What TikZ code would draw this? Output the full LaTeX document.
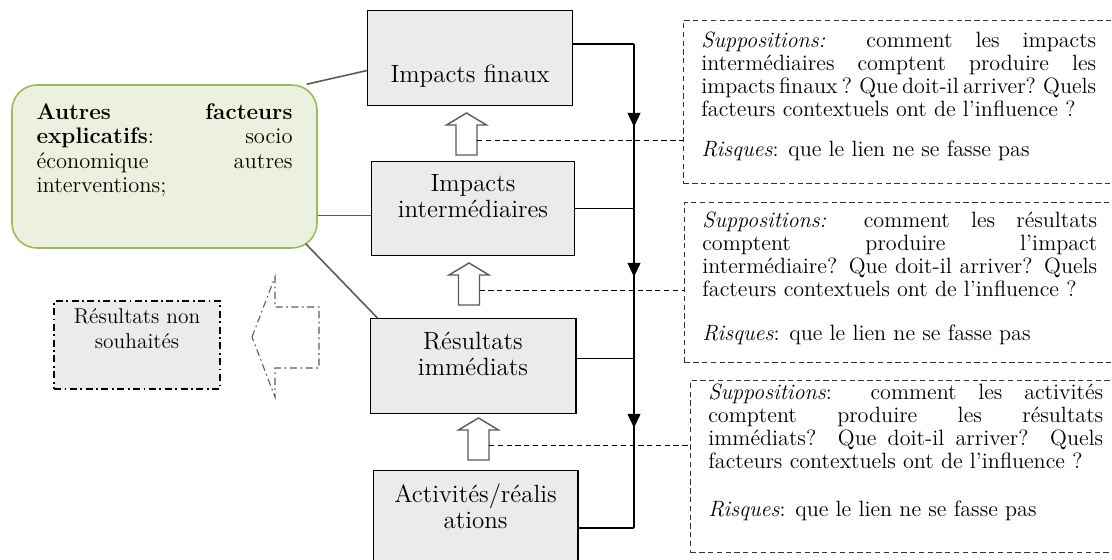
\documentclass[tikz,border=0pt]{standalone}
\usepackage{fontspec}
\usetikzlibrary{positioning,arrows.meta,decorations.markings}
\definecolor{grisboite}{RGB}{235,235,235}
\definecolor{vertfond}{RGB}{235,241,222}
\definecolor{vertbord}{RGB}{155,187,89}
\definecolor{grislien}{RGB}{90,90,90}
\tikzset{
  boite/.style = {draw = black, fill = grisboite, line width = 0.6pt, inner sep = 0pt, minimum width = 4.1cm, minimum height = 1.9cm},
  titre/.style = {font = \fontsize{14.2}{14.8}\selectfont, align = center, inner sep = 0pt, anchor = north},
  hypothese/.style = {draw = black!80, densely dashed, line width = 0.5pt, inner sep = 0pt, anchor = north west, minimum width = 8.8cm},
  texte/.style = {font = {\fontsize{12.6}{13.1}\selectfont\tolerance10000\relax}, text width = 7.9cm, align = justify, inner sep = 0pt, anchor = north west},
  lien/.style = {draw = grislien, line width = 0.9pt},
  tiret/.style = {draw = black, densely dashed, line width = 0.5pt},
  creuse/.style = {draw = grislien, fill = white, line width = 0.8pt},
  pointille/.style = {dash pattern = on 4pt off 2pt on 1pt off 2pt, line width = 0.6pt}
}
\begin{document}
\begin{tikzpicture}[x = 0.02cm, y = -0.02cm]
\useasboundingbox (0,0) rectangle (1112,560);
\clip (0,0) rectangle (1112,560);
\node[boite, anchor = north west] (fin) at (367,10) {};
\node[boite, below = 1.1cm of fin, xshift = 0.06cm, minimum width = 4.06cm, minimum height = 1.88cm] (int) {};
\node[boite, below = 1.24cm of int, minimum width = 4.12cm] (res) {};
\node[boite, below = 1.12cm of res, xshift = 0.05cm, minimum height = 2.2cm] (act) {};
\node[titre] (fin-t) at ([yshift = -1.1cm]fin.north) {Impacts finaux};
\node[titre] (int-t) at ([yshift = -0.26cm]int.north) {Impacts\\intermédiaires};
\node[titre] (res-t) at ([yshift = -0.28cm]res.north) {Résultats\\immédiats};
\node[titre] (act-t) at ([yshift = -0.26cm]act.north) {Activités/réalis\\ations};
\node[draw = vertbord, fill = vertfond, line width = 0.9pt, rounded corners = 0.5cm, minimum width = 6.1cm, minimum height = 3.26cm, inner sep = 0pt] (autres) at (164.5,166.5) {};
\node[inner sep = 0pt, anchor = north west, text width = 5.12cm, align = justify, font = \fontsize{12.8}{13.9}\selectfont] (autres-t) at ([xshift = 0.5cm, yshift = -0.38cm]autres.north west) {\textbf{Autres facteurs\linebreak explicatifs}: socio\linebreak économique autres\linebreak interventions;};
\node[draw = black, fill = grisboite, pointille, minimum width = 3.32cm, minimum height = 1.76cm, inner sep = 0pt] (nonvoulu) at (137,345) {};
\node[titre, font = \fontsize{12.2}{14.2}\selectfont] (nonvoulu-t) at ([yshift = -0.16cm]nonvoulu.north) {Résultats non\\souhaités};
\draw[pointille, draw = grislien] (252,337) -- (275,277) -- (275,307) -- (319,307) -- (319,368) -- (275,368) -- (275,397) -- cycle;
\draw[lien] ([xshift = -0.22cm]autres.north east) -- ([yshift = -0.25cm]fin.west);
\draw[lien] ([yshift = -0.98cm]autres.east) coordinate (g2) -- (g2 -| int.west);
\draw[lien] ([xshift = -0.24cm, yshift = 0.1cm]autres.south east) -- ([xshift = 0.16cm]res.north west);
\foreach \x/\y [count = \i] in {466.5/155, 469/305, 478.5/460}
{
  \draw[creuse] (\x-10.5,\y) -- ++(0,-30) -- ++(-9.5,0) -- ++(20,-12) -- ++(20,12) -- ++(-9.5,0) -- ++(0,30) -- cycle;
  \coordinate (f\i) at (\x+10.5,\y-15);
}
\node[hypothese, minimum height = 3.26cm] (s1) at (683,20) {};
\node[hypothese, minimum height = 3.2cm] (s2) at (684,202) {};
\node[hypothese, minimum height = 3.44cm] (s3) at (690,380) {};
\node[texte] (s1-t) at ([xshift = 0.36cm, yshift = -0.24cm]s1.north west) {\textit{Suppositions:} comment les impacts\linebreak intermédiaires comptent produire les\linebreak {\spaceskip0.18em plus 1em\relax impacts finaux ? Que doit-il arriver? Quels}\linebreak facteurs contextuels ont de l’influence ?\\[0.34cm]\textit{Risques}: que le lien ne se fasse pas};
\node[texte] (s2-t) at ([xshift = 0.36cm, yshift = -0.2cm]s2.north west) {\textit{Suppositions:} comment les résultats\linebreak comptent produire l’impact\linebreak intermédiaire? Que doit-il arriver? Quels\linebreak facteurs contextuels ont de l’influence ?\\[0.42cm]\textit{Risques}: que le lien ne se fasse pas};
\node[texte] (s3-t) at ([xshift = 0.36cm, yshift = -0.08cm]s3.north west) {\textit{Suppositions}: comment les activités\linebreak comptent produire les résultats\linebreak immédiats? Que doit-il arriver? Quels\linebreak facteurs contextuels ont de l’influence ?\\[0.5cm]\textit{Risques}: que le lien ne se fasse pas};
\foreach \i in {1,2,3} \draw[tiret] (f\i) -- (f\i -| s\i.west);
\coordinate (b1) at (634,44);
\coordinate (b4) at (634,528);
\draw[line width = 0.7pt, postaction = {decorate}, decoration = {markings,
  mark = at position 0.171 with {\arrow{Triangle[length = 0.28cm, width = 0.26cm]}},
  mark = at position 0.481 with {\arrow{Triangle[length = 0.28cm, width = 0.26cm]}},
  mark = at position 0.793 with {\arrow{Triangle[length = 0.28cm, width = 0.26cm]}}}] (b1) -- (b4);
\draw[line width = 0.7pt] (fin.east |- b1) -- (b1);
\draw[line width = 0.7pt] (int.east) -- (int.east -| b1);
\draw[line width = 0.7pt] ([yshift = 0.15cm]res.east) coordinate (r1) -- (r1 -| b1);
\draw[line width = 0.7pt] (act.east |- b4) -- (b4);
\end{tikzpicture}
\end{document}
